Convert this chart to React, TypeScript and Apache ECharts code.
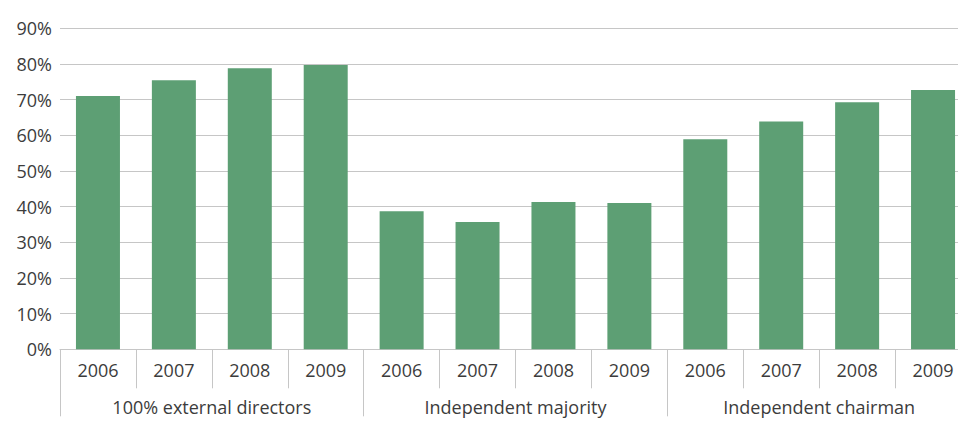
import React, { useEffect, useRef } from "react";
import * as echarts from "echarts";

const years = ["2006", "2007", "2008", "2009", "2006", "2007", "2008", "2009", "2006", "2007", "2008", "2009"];
const groups = ["100% external directors", "Independent majority", "Independent chairman"];
const values = [71.0, 75.4, 78.8, 79.7, 38.7, 35.7, 41.3, 41.0, 58.9, 63.9, 69.3, 72.7];
const yTicks = { min: 0, max: 90, interval: 10 };

const FONT = "'Open Sans', 'Noto Sans', sans-serif";
const TEXT = "#3c3c3c";
const LINE = "#c6c6c6";

export default function App() {
  const ref = useRef<HTMLDivElement>(null);
  useEffect(() => {
    if (!ref.current) return;
    const chart = echarts.init(ref.current, undefined, { renderer: "svg" });
    chart.setOption({
      animation: false,
      textStyle: { fontFamily: FONT },
      grid: { left: 60, top: 28.3, bottom: 75.7, right: 4, containLabel: false },
      xAxis: [
        {
          type: "category",
          data: years,
          position: "bottom",
          boundaryGap: true,
          axisLine: { show: true, lineStyle: { color: LINE, width: 1 } },
          axisTick: { show: true, length: 39, lineStyle: { color: LINE, width: 1 } },
          axisLabel: { margin: 12, fontSize: 18, color: TEXT, fontFamily: FONT, interval: 0 },
        },
        {
          type: "category",
          data: groups,
          position: "bottom",
          boundaryGap: true,
          axisLine: { show: false },
          axisTick: { show: true, length: 67, lineStyle: { color: LINE, width: 1 } },
          axisLabel: { margin: 49, fontSize: 18, color: TEXT, fontFamily: FONT, interval: 0 },
        },
      ],
      yAxis: {
        type: "value",
        min: yTicks.min,
        max: yTicks.max,
        interval: yTicks.interval,
        axisLine: { show: false },
        axisTick: { show: false },
        axisLabel: { formatter: "{value}%", fontSize: 18, color: TEXT, fontFamily: FONT, margin: 8 },
        splitLine: { show: true, lineStyle: { color: LINE, width: 1 } },
      },
      series: [
        {
          type: "bar",
          xAxisIndex: 0,
          data: values,
          barWidth: 44,
          itemStyle: { color: "#5d9f74" },
        },
      ],
    });
    return () => chart.dispose();
  }, []);
  return (
    <div style={{ position: "fixed", left: 0, top: 0, width: 958, height: 425, overflow: "hidden", background: "#fff" }}>
      <div ref={ref} style={{ position: "absolute", left: 0, top: 0, width: 975, height: 425 }} />
    </div>
  );
}
